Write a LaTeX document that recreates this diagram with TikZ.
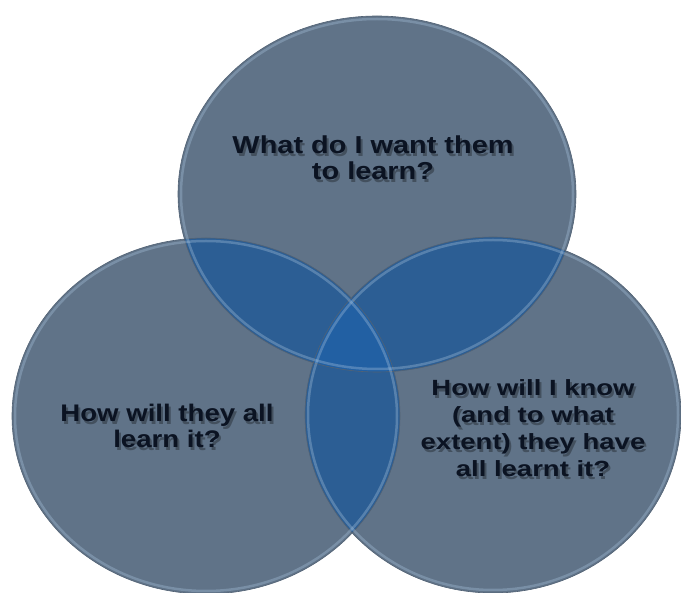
\documentclass[tikz,border=0pt]{standalone}
\usepackage{fontspec}
\newfontfamily\ftop{Liberation Sans}[FakeStretch=1.18]
\newfontfamily\fleft{Liberation Sans}[FakeStretch=1.15]
\newfontfamily\fright{Liberation Sans}[FakeStretch=1.25]
\definecolor{base}{HTML}{607388}
\definecolor{pair}{HTML}{2C5E94}
\definecolor{triple}{HTML}{2260A3}
\definecolor{txt}{HTML}{0B1322}
\definecolor{rimc}{HTML}{A9C4DE}
\begin{document}
\begin{tikzpicture}[x=1pt,y=-1pt,
  lbl/.style={text=txt, align=center, inner sep=0pt},
  shadowtxt/.style={text=black, text opacity=0.3, align=center, inner sep=0pt},
  rim/.style={draw=rimc, draw opacity=0.35, line width=2.5pt},
  edge/.style={draw=base!85!black, line width=0.6pt}]
\useasboundingbox[fill=white] (0,0) rectangle (681,593);
\def\rxT{199pt}\def\ryT{178pt}
\def\rxL{194pt}\def\ryL{178pt}
\def\rxR{188pt}\def\ryR{178pt}
\coordinate (ct) at (377,194);
\coordinate (cl) at (206,416);
\coordinate (cr) at (493,415);
% base fills
\fill[base] (ct) ellipse [x radius=\rxT, y radius=\ryT];
\fill[base] (cl) ellipse [x radius=\rxL, y radius=\ryL];
\fill[base] (cr) ellipse [x radius=\rxR, y radius=\ryR];
% pairwise overlaps
\begin{scope}
  \clip (ct) ellipse [x radius=\rxT, y radius=\ryT];
  \fill[pair] (cl) ellipse [x radius=\rxL, y radius=\ryL];
  \fill[pair] (cr) ellipse [x radius=\rxR, y radius=\ryR];
\end{scope}
\begin{scope}
  \clip (cl) ellipse [x radius=\rxL, y radius=\ryL];
  \fill[pair] (cr) ellipse [x radius=\rxR, y radius=\ryR];
  \clip (cr) ellipse [x radius=\rxR, y radius=\ryR];
  \fill[triple] (ct) ellipse [x radius=\rxT, y radius=\ryT];
\end{scope}
% edges and rims
\draw[edge] (ct) ellipse [x radius=\rxT, y radius=\ryT];
\draw[edge] (cl) ellipse [x radius=\rxL, y radius=\ryL];
\draw[edge] (cr) ellipse [x radius=\rxR, y radius=\ryR];
\draw[rim] (ct) ellipse [x radius=196pt, y radius=175pt];
\draw[rim] (cl) ellipse [x radius=191pt, y radius=175pt];
\draw[rim] (cr) ellipse [x radius=185pt, y radius=175pt];
% texts with soft shadow
\node[shadowtxt, font=\ftop\bfseries\fontsize{24.5}{26}\selectfont] (qtops) at (375,161) {What do I want them\\to learn?};
\node[lbl, font=\ftop\bfseries\fontsize{24.5}{26}\selectfont] (qtop) at (373,158) {What do I want them\\to learn?};
\node[shadowtxt, font=\fleft\bfseries\fontsize{24}{26}\selectfont] (qlefts) at (169,429) {How will they all\\learn it?};
\node[lbl, font=\fleft\bfseries\fontsize{24}{26}\selectfont] (qleft) at (167,426) {How will they all\\learn it?};
\node[shadowtxt, font=\fright\bfseries\fontsize{22}{27}\selectfont] (qrights) at (535,431.5) {How will I know\\(and to what\\extent) they have\\all learnt it?};
\node[lbl, font=\fright\bfseries\fontsize{22}{27}\selectfont] (qright) at (533,428.5) {How will I know\\(and to what\\extent) they have\\all learnt it?};
\end{tikzpicture}
\end{document}
